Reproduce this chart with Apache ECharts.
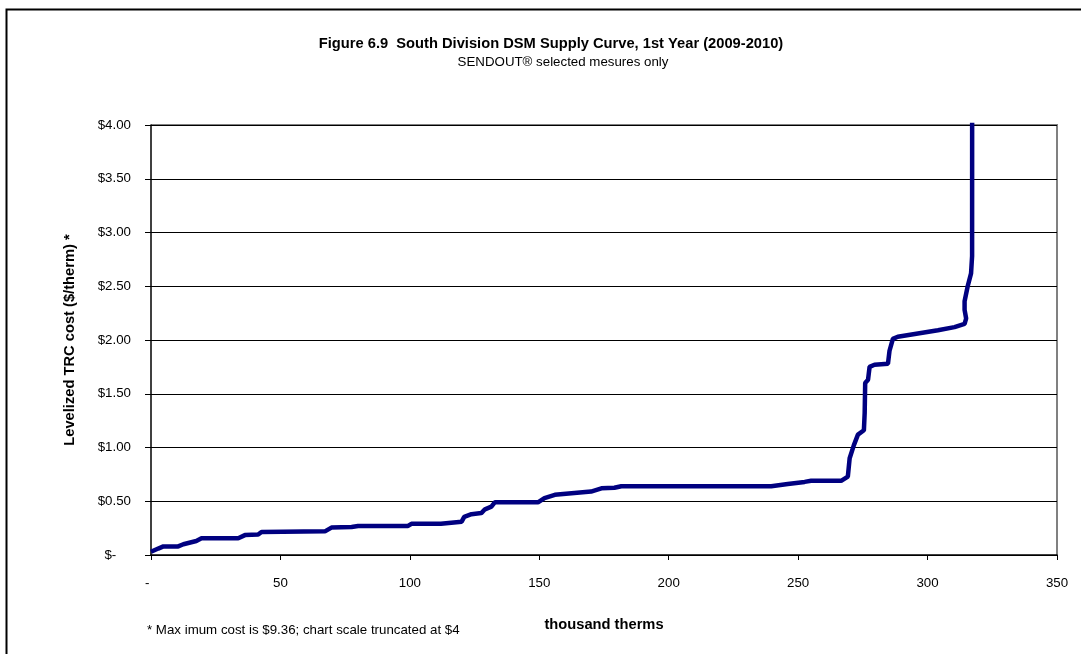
<!DOCTYPE html>
<html>
<head>
<meta charset="utf-8">
<script src="https://cdn.jsdelivr.net/npm/echarts@6/dist/echarts.min.js"></script>
<style>
  html, body { margin: 0; padding: 0; background: #fff; }
  #chart { width: 1081px; height: 654px; }
</style>
</head>
<body>
<div id="chart"></div>
<script>
// cumulative savings, thousand therms
var supplyX = [0, 2.8, 4.8, 10.5, 12.5, 17.5, 19.5, 33.7, 36.3, 41.4, 42.7, 67.2, 69.7, 77.5, 80,
  99.3, 100.6, 112, 120, 121, 123.8, 127.6, 129, 131.5, 132.8, 149.5, 152, 156, 170, 174,
  179, 181.7, 239.6, 246, 252.5, 255, 266.6, 269.2, 269.9, 271.5, 273.1, 275.4, 275.7, 275.9,
  277, 277.6, 279.5, 284.7, 285.3, 286, 286.6, 288.5, 304, 310.4, 314.3, 314.9, 314.3, 314.3,
  315.5, 316.8, 317.2, 317.3];
// levelized TRC cost, $/therm
var costY = [0.03, 0.06, 0.08, 0.08, 0.10, 0.13, 0.155, 0.155, 0.185, 0.19, 0.215, 0.22, 0.255, 0.26, 0.27,
  0.27, 0.29, 0.29, 0.31, 0.355, 0.38, 0.39, 0.425, 0.45, 0.49, 0.49, 0.53, 0.56, 0.59, 0.62,
  0.625, 0.64, 0.64, 0.66, 0.68, 0.69, 0.69, 0.73, 0.9, 1.02, 1.12, 1.16, 1.32, 1.60,
  1.63, 1.75, 1.77, 1.78, 1.90, 1.96, 2.01, 2.03, 2.09, 2.12, 2.15, 2.20, 2.28, 2.36,
  2.50, 2.62, 2.78, 9.36];

var xTicks = { min: 0, max: 350, interval: 50 };
var yTicks = { min: 0, max: 4, interval: 0.5 };

var font = '"Liberation Sans", Arial, sans-serif';
var points = supplyX.map(function (x, i) { return [x, costY[i]]; });

var chart = echarts.init(document.getElementById('chart'));
chart.setOption({
  backgroundColor: '#fff',
  animation: false,
  textStyle: { fontFamily: font },
  title: [{
    text: 'Figure 6.9  South Division DSM Supply Curve, 1st Year (2009-2010)',
    left: 546,
    top: 31,
    textAlign: 'center',
    textStyle: { fontFamily: font, fontSize: 14.7, fontWeight: 'bold', color: '#000' }
  }, {
    text: 'SENDOUT\u00AE selected mesures only',
    left: 558,
    top: 51,
    textAlign: 'center',
    textStyle: { fontFamily: font, fontSize: 13.3, fontWeight: 'normal', color: '#000' }
  }],
  grid: { left: 151, right: 24, top: 125, bottom: 99 },
  xAxis: {
    type: 'value',
    min: xTicks.min, max: xTicks.max, interval: xTicks.interval,
    name: 'thousand therms',
    nameLocation: 'middle',
    nameGap: 62,
    nameTextStyle: { fontFamily: font, fontSize: 14.7, fontWeight: 'bold', color: '#000' },
    axisLine: { onZero: false, lineStyle: { color: '#000', width: 1.5 } },
    axisTick: { show: true, length: 5, lineStyle: { color: '#000' } },
    axisLabel: {
      margin: 22, fontSize: 13.3, color: '#000', fontFamily: font,
      formatter: function (v) { return v === 0 ? '-  ' : String(v); }
    },
    splitLine: { show: false }
  },
  yAxis: {
    type: 'value',
    min: yTicks.min, max: yTicks.max, interval: yTicks.interval,
    name: 'Levelized TRC cost ($/therm) *',
    nameLocation: 'middle',
    nameGap: 74,
    nameTextStyle: { fontFamily: font, fontSize: 14.7, fontWeight: 'bold', color: '#000' },
    axisLine: { show: true, lineStyle: { color: '#000', width: 1.5 } },
    axisTick: { show: true, length: 6, lineStyle: { color: '#000' } },
    axisLabel: {
      margin: 20, fontSize: 13.3, color: '#000', fontFamily: font,
      formatter: function (v) { return v === 0 ? '$-    ' : '$' + v.toFixed(2); }
    },
    splitLine: { show: true, lineStyle: { color: '#000', width: 1.2 } }
  },
  graphic: [
    {
      type: 'rect', silent: true, z: -1,
      shape: { x: 6.5, y: 9.5, width: 1200, height: 800 },
      style: { fill: null, stroke: '#000', lineWidth: 2 }
    },
    {
      type: 'polyline', silent: true,
      shape: { points: [[151, 125], [1057, 125], [1057, 555]] },
      style: { stroke: '#808080', lineWidth: 2, fill: null }
    },
    {
      type: 'text', left: 147, top: 624, silent: true,
      style: { text: '* Max imum cost is $9.36; chart scale truncated at $4', font: '13.3px ' + font, fill: '#000' }
    }
  ],
  series: [{
    type: 'line',
    data: points,
    showSymbol: false,
    clip: true,
    lineStyle: { color: '#000080', width: 4.5 },
    itemStyle: { color: '#000080' }
  }]
});
</script>
</body>
</html>
